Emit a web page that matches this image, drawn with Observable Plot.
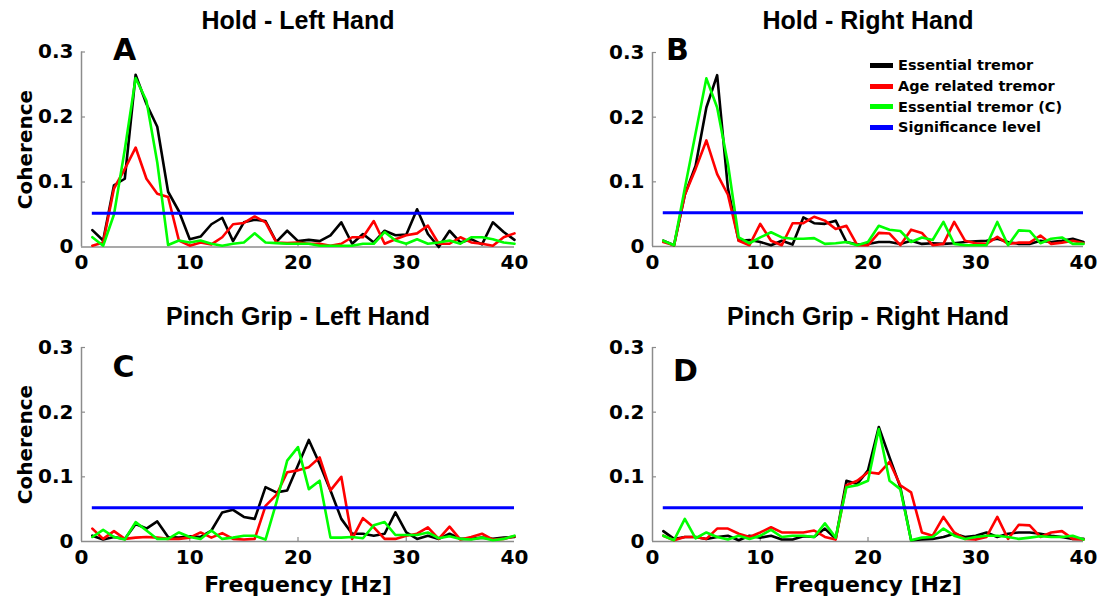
<!DOCTYPE html>
<html><head><meta charset="utf-8">
<script src="https://cdn.jsdelivr.net/npm/d3@7"></script>
<script src="https://cdn.jsdelivr.net/npm/@observablehq/plot@0.6"></script>
<style>
body{margin:0;background:#fff;}
#fig{position:relative;width:1102px;height:603px;overflow:hidden;background:#fff;}
.panel{position:absolute;}
#legend{position:absolute;left:870px;top:55px;font-family:"DejaVu Sans";font-weight:bold;font-size:14.5px;color:#000;}
#legend .row{display:flex;align-items:center;height:20.7px;}
#legend .sw{width:23px;height:5px;margin-right:5px;}
</style></head><body><div id="fig"></div>
<script>
const freq = [1,2,3,4,5,6,7,8,9,10,11,12,13,14,15,16,17,18,19,20,21,22,23,24,25,26,27,28,29,30,31,32,33,34,35,36,37,38,39,40];

const holdLeftET  = [0.026,0.010,0.095,0.105,0.265,0.220,0.185,0.085,0.055,0.012,0.016,0.035,0.045,0.009,0.038,0.042,0.040,0.008,0.025,0.009,0.011,0.009,0.018,0.038,0.005,0.020,0.007,0.025,0.018,0.019,0.058,0.020,0.000,0.025,0.007,0.012,0.004,0.038,0.023,0.011];
const holdLeftART = [0.002,0.007,0.090,0.120,0.153,0.105,0.082,0.077,0.010,0.002,0.007,0.004,0.015,0.035,0.037,0.047,0.038,0.007,0.006,0.007,0.005,0.005,0.002,0.005,0.015,0.015,0.040,0.005,0.012,0.018,0.021,0.033,0.005,0.005,0.015,0.007,0.005,0.002,0.015,0.021];
const holdLeftETC = [0.015,0.002,0.050,0.150,0.260,0.225,0.130,0.003,0.010,0.007,0.010,0.005,0.002,0.005,0.007,0.021,0.007,0.006,0.005,0.005,0.005,0.002,0.002,0.002,0.002,0.005,0.005,0.023,0.010,0.005,0.012,0.005,0.007,0.010,0.005,0.015,0.015,0.012,0.007,0.005];

const holdRightET  = [0.009,0.002,0.080,0.125,0.215,0.265,0.090,0.009,0.010,0.007,0.002,0.009,0.003,0.045,0.036,0.035,0.040,0.007,0.003,0.004,0.007,0.007,0.004,0.009,0.004,0.005,0.004,0.005,0.007,0.008,0.009,0.012,0.007,0.004,0.004,0.009,0.007,0.009,0.012,0.007];
const holdRightART = [0.007,0.002,0.080,0.120,0.164,0.112,0.080,0.009,0.002,0.035,0.009,0.002,0.036,0.036,0.046,0.040,0.027,0.032,0.002,0.002,0.021,0.020,0.002,0.026,0.021,0.002,0.004,0.038,0.009,0.005,0.004,0.015,0.004,0.006,0.006,0.017,0.004,0.006,0.009,0.005];
const holdRightETC = [0.009,0.002,0.090,0.175,0.260,0.215,0.128,0.014,0.005,0.014,0.022,0.014,0.012,0.012,0.013,0.004,0.005,0.007,0.002,0.007,0.032,0.026,0.024,0.007,0.014,0.010,0.038,0.004,0.002,0.002,0.002,0.038,0.002,0.025,0.024,0.005,0.012,0.014,0.004,0.004];

const pinchLeftET  = [0.009,0.003,0.007,0.004,0.027,0.020,0.031,0.007,0.006,0.008,0.007,0.017,0.045,0.049,0.038,0.035,0.084,0.076,0.079,0.118,0.157,0.120,0.079,0.035,0.012,0.012,0.009,0.012,0.045,0.014,0.004,0.009,0.004,0.012,0.004,0.004,0.006,0.004,0.006,0.007];
const pinchLeftART = [0.020,0.004,0.016,0.004,0.006,0.007,0.006,0.004,0.004,0.006,0.014,0.006,0.013,0.004,0.003,0.004,0.055,0.072,0.107,0.110,0.115,0.130,0.079,0.100,0.004,0.036,0.022,0.004,0.004,0.009,0.012,0.022,0.004,0.023,0.003,0.007,0.012,0.003,0.004,0.008];
const pinchLeftETC = [0.007,0.018,0.007,0.003,0.030,0.017,0.004,0.004,0.014,0.007,0.004,0.017,0.004,0.006,0.009,0.009,0.003,0.060,0.125,0.146,0.081,0.094,0.006,0.006,0.007,0.005,0.025,0.030,0.010,0.010,0.010,0.014,0.005,0.008,0.004,0.003,0.006,0.002,0.004,0.009];

const pinchRightET  = [0.016,0.004,0.007,0.007,0.004,0.007,0.009,0.002,0.009,0.006,0.009,0.003,0.003,0.008,0.007,0.020,0.004,0.094,0.089,0.110,0.177,0.130,0.084,0.002,0.003,0.004,0.007,0.012,0.007,0.009,0.014,0.007,0.012,0.014,0.014,0.012,0.009,0.007,0.004,0.004];
const pinchRightART = [0.009,0.002,0.007,0.007,0.004,0.020,0.020,0.012,0.007,0.014,0.022,0.014,0.014,0.014,0.017,0.007,0.003,0.087,0.094,0.107,0.105,0.123,0.087,0.076,0.014,0.009,0.038,0.014,0.004,0.003,0.007,0.038,0.004,0.026,0.025,0.007,0.014,0.016,0.004,0.003];
const pinchRightETC = [0.009,0.002,0.035,0.005,0.014,0.007,0.003,0.009,0.004,0.009,0.018,0.007,0.009,0.009,0.007,0.028,0.006,0.084,0.087,0.094,0.174,0.094,0.081,0.002,0.006,0.007,0.020,0.009,0.004,0.007,0.009,0.009,0.007,0.004,0.006,0.008,0.007,0.007,0.009,0.003];

const significanceLevel = 0.052;

const seriesNames  = ["Essential tremor","Age related tremor","Essential tremor (C)","Significance level"];
const seriesColors = ["#000000","#ff0000","#00ff00","#0000ff"];

const xTicks = [0,10,20,30,40];
const xTickLabels = ["0","10","20","30","40"];
const yTicks = [0,0.1,0.2,0.3];
const yTickLabels = ["0","0.1","0.2","0.3"];

const panelTitles  = ["Hold - Left Hand","Hold - Right Hand","Pinch Grip - Left Hand","Pinch Grip - Right Hand"];
const panelLetters = ["A","B","C","D"];
const yLabel = "Coherence";
const xLabel = "Frequency [Hz]";

const fig = document.getElementById("fig");

function makePanel(o) {
  const plotW = o.width - o.mL - o.mR;
  const plotH = o.height - o.mT - o.mB;
  const rows = s => freq.map((f, i) => ({f, v: s[i]}));
  const lineW = 2.6;
  const marks = [
    Plot.axisX({ticks: xTicks, tickSize: 0, tickPadding: 8, tickFormat: (d) => xTickLabels[xTicks.indexOf(d)], label: null}),
    Plot.axisY({ticks: yTicks, tickSize: 0, tickPadding: 8, tickFormat: (d) => yTickLabels[yTicks.indexOf(d)], label: null}),
    Plot.ruleX([0], {stroke: "#8c8c8c", strokeWidth: 1.5}),
    Plot.ruleY([0], {stroke: "#8c8c8c", strokeWidth: 1.5}),
    Plot.tickX(xTicks.slice(1, -1), {x: d => d, insetTop: plotH - 4, stroke: "#8c8c8c", strokeWidth: 1.2}),
    Plot.tickY(yTicks.slice(1), {y: d => d, insetRight: plotW - 4, stroke: "#8c8c8c", strokeWidth: 1.2}),
    Plot.line(rows(o.et), {x: "f", y: "v", stroke: seriesColors[0], strokeWidth: lineW}),
    Plot.line(rows(o.art), {x: "f", y: "v", stroke: seriesColors[1], strokeWidth: lineW}),
    Plot.line(rows(o.etc), {x: "f", y: "v", stroke: seriesColors[2], strokeWidth: lineW}),
    Plot.ruleY([significanceLevel], {x1: freq[0], x2: freq[freq.length - 1], stroke: seriesColors[3], strokeWidth: 3}),
    Plot.text([o.title], {frameAnchor: "top", dy: o.titleDy, textAnchor: "middle", lineAnchor: "middle", fontFamily: "Liberation Sans", fontWeight: "bold", fontSize: 25}),
    Plot.text([o.letter], {frameAnchor: "top-left", dx: o.letterDx, dy: o.letterDy, textAnchor: "middle", lineAnchor: "middle", fontSize: 30})
  ];
  if (o.ylabel) marks.push(Plot.text([o.ylabel], {frameAnchor: "left", dx: -56, rotate: -90, textAnchor: "middle", lineAnchor: "middle", fontSize: 20}));
  if (o.xlabel) marks.push(Plot.text([o.xlabel], {frameAnchor: "bottom", dy: 43, textAnchor: "middle", lineAnchor: "middle", fontSize: 22}));
  const svg = Plot.plot({
    width: o.width, height: o.height,
    marginLeft: o.mL, marginRight: o.mR, marginTop: o.mT, marginBottom: o.mB,
    style: {fontFamily: "DejaVu Sans", fontWeight: "bold", fontSize: "20px", color: "#000", background: "transparent", overflow: "visible"},
    x: {domain: [0, 40]},
    y: {domain: [0, 0.3]},
    marks
  });
  svg.classList.add("panel");
  svg.style.left = o.left + "px";
  svg.style.top = o.top + "px";
  fig.appendChild(svg);
}

makePanel({left: 0, top: 0, width: 551, height: 300, mL: 81, mR: 37, mT: 51.5, mB: 53.5,
  title: panelTitles[0], titleDy: -31.5, letter: panelLetters[0], letterDx: 43, letterDy: -1.5,
  et: holdLeftET, art: holdLeftART, etc: holdLeftETC, ylabel: yLabel});
makePanel({left: 551, top: 0, width: 551, height: 300, mL: 101, mR: 19, mT: 52, mB: 54,
  title: panelTitles[1], titleDy: -32, letter: panelLetters[1], letterDx: 25, letterDy: -2,
  et: holdRightET, art: holdRightART, etc: holdRightETC});
makePanel({left: 0, top: 300, width: 551, height: 303, mL: 81, mR: 37, mT: 47, mB: 62,
  title: panelTitles[2], titleDy: -31, letter: panelLetters[2], letterDx: 42, letterDy: 20,
  et: pinchLeftET, art: pinchLeftART, etc: pinchLeftETC, ylabel: yLabel, xlabel: xLabel});
makePanel({left: 551, top: 300, width: 551, height: 303, mL: 101, mR: 19, mT: 47, mB: 62,
  title: panelTitles[3], titleDy: -31, letter: panelLetters[3], letterDx: 33, letterDy: 24,
  et: pinchRightET, art: pinchRightART, etc: pinchRightETC, xlabel: xLabel});

// legend (panel B)
const legend = document.createElement("div");
legend.id = "legend";
seriesNames.forEach((name, i) => {
  const row = document.createElement("div");
  row.className = "row";
  const sw = document.createElement("div");
  sw.className = "sw";
  sw.style.background = seriesColors[i];
  const tx = document.createElement("span");
  tx.textContent = name;
  row.appendChild(sw);
  row.appendChild(tx);
  legend.appendChild(row);
});
fig.appendChild(legend);
</script>
</body></html>
